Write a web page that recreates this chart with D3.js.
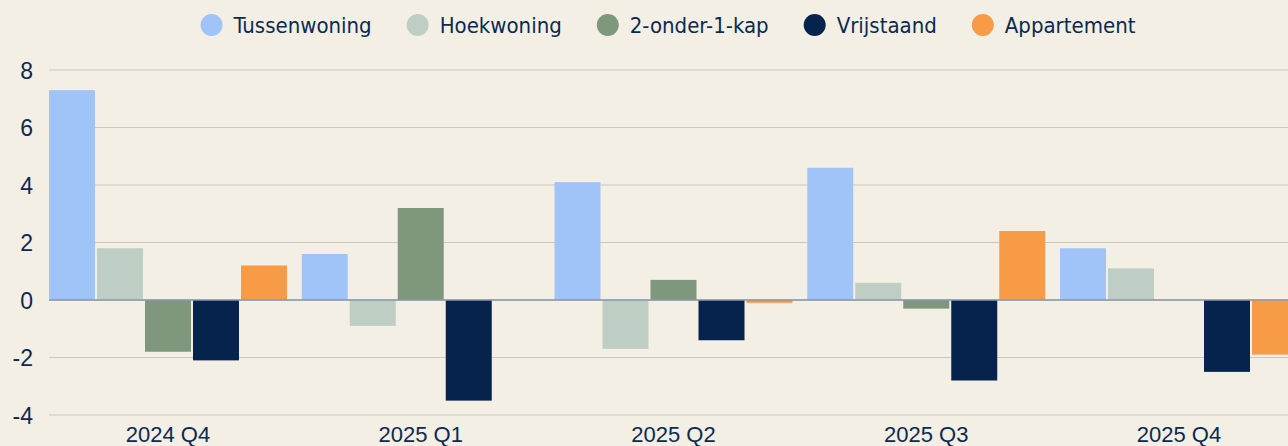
<!DOCTYPE html>
<html>
<head>
<meta charset="utf-8">
<script src="https://cdn.jsdelivr.net/npm/d3@7"></script>
<style>
  html, body { margin: 0; padding: 0; background: #f3efe4; overflow: hidden; }
  svg { display: block; font-family: "DejaVu Sans Condensed", "Liberation Sans Narrow", "Roboto", sans-serif; }
</style>
</head>
<body>
<script>
var categories = ["2024 Q4", "2025 Q1", "2025 Q2", "2025 Q3", "2025 Q4"];
var series = ["Tussenwoning", "Hoekwoning", "2-onder-1-kap", "Vrijstaand", "Appartement"];
var colors = ["#a0c4f8", "#bfcec4", "#7f977c", "#05234c", "#f89b47"];
var tussenwoning = [7.3, 1.6, 4.1, 4.6, 1.8];
var hoekwoning = [1.8, -0.9, -1.7, 0.6, 1.1];
var tweeOnderEenKap = [-1.8, 3.2, 0.7, -0.3, 0];
var vrijstaand = [-2.1, -3.5, -1.4, -2.8, -2.5];
var appartement = [1.2, 0, -0.1, 2.4, -1.9];
var yTicks = [-4, -2, 0, 2, 4, 6, 8];

var values = [tussenwoning, hoekwoning, tweeOnderEenKap, vrijstaand, appartement];

var width = 1288;
var height = 446;
var textColor = "#0b2a52";

var svg = d3.select("body").append("svg")
    .attr("width", width)
    .attr("height", height);

var yScale = d3.scaleLinear()
    .domain([-4, 8])
    .range([415, 70]);

var x0 = d3.scaleBand()
    .domain(categories)
    .range([49, 1298])
    .paddingInner(0.0584)
    .paddingOuter(0);

var x1 = d3.scaleBand()
    .domain(series)
    .range([0, x0.bandwidth()])
    .paddingInner(0.042);

// grid lines
svg.append("g")
  .selectAll("line")
  .data(yTicks)
  .enter()
  .append("line")
    .attr("x1", 49)
    .attr("x2", width)
    .attr("y1", function(d) { return yScale(d); })
    .attr("y2", function(d) { return yScale(d); })
    .attr("stroke", "#c9c8c2")
    .attr("stroke-width", 1.2);

var yAxis = d3.axisLeft(yScale)
    .tickValues(yTicks)
    .tickSize(0)
    .tickPadding(0)
    .tickFormat(function(d) { return d < 0 ? "-" + Math.abs(d) : d; });

var yAxisG = svg.append("g")
    .attr("transform", "translate(33,0)")
    .call(yAxis);
yAxisG.select(".domain").remove();
yAxisG.selectAll("text")
    .attr("fill", textColor)
    .attr("font-size", "23px")
    .attr("dy", "0.35em");

// bars
var groups = svg.append("g")
  .selectAll("g")
  .data(categories)
  .enter()
  .append("g")
    .attr("transform", function(d) { return "translate(" + x0(d) + ",0)"; });

groups.selectAll("rect")
  .data(function(c, i) {
    return series.map(function(s, j) { return { s: s, v: values[j][i], c: colors[j] }; });
  })
  .enter()
  .append("rect")
    .attr("x", function(d) { return x1(d.s); })
    .attr("width", x1.bandwidth())
    .attr("y", function(d) { return yScale(Math.max(0, d.v)); })
    .attr("height", function(d) { return Math.abs(yScale(d.v) - yScale(0)); })
    .attr("fill", function(d) { return d.c; });

// zero line
svg.append("line")
    .attr("x1", 49)
    .attr("x2", width)
    .attr("y1", yScale(0))
    .attr("y2", yScale(0))
    .attr("stroke", "#8796ab")
    .attr("stroke-width", 1.5);

// x axis labels
var xAxis = d3.axisBottom(x0)
    .tickSize(0)
    .tickPadding(0);
var xAxisG = svg.append("g")
    .attr("transform", "translate(0,425)")
    .call(xAxis);
xAxisG.select(".domain").remove();
xAxisG.selectAll("text")
    .attr("fill", textColor)
    .attr("font-size", "22px")
    .attr("dy", "0.78em");

// legend
var gap = 46;
var legend = svg.append("g");
var items = legend.selectAll("g")
  .data(series)
  .enter()
  .append("g");
items.append("circle")
    .attr("r", 11)
    .attr("cx", 0)
    .attr("cy", 25)
    .attr("fill", function(d, i) { return colors[i]; });
items.append("text")
    .attr("x", 22)
    .attr("y", 25)
    .attr("dy", "0.36em")
    .attr("fill", textColor)
    .attr("font-size", "22px")
    .text(function(d) { return d; });

var pos = 0;
items.each(function() {
  var w = d3.select(this).select("text").node().getComputedTextLength();
  d3.select(this).attr("transform", "translate(" + pos + ",0)");
  pos += 22 + w + gap;
});
var total = pos - gap + 11;
legend.attr("transform", "translate(" + (668 - total / 2 + 11) + ",0)");
</script>
</body>
</html>
